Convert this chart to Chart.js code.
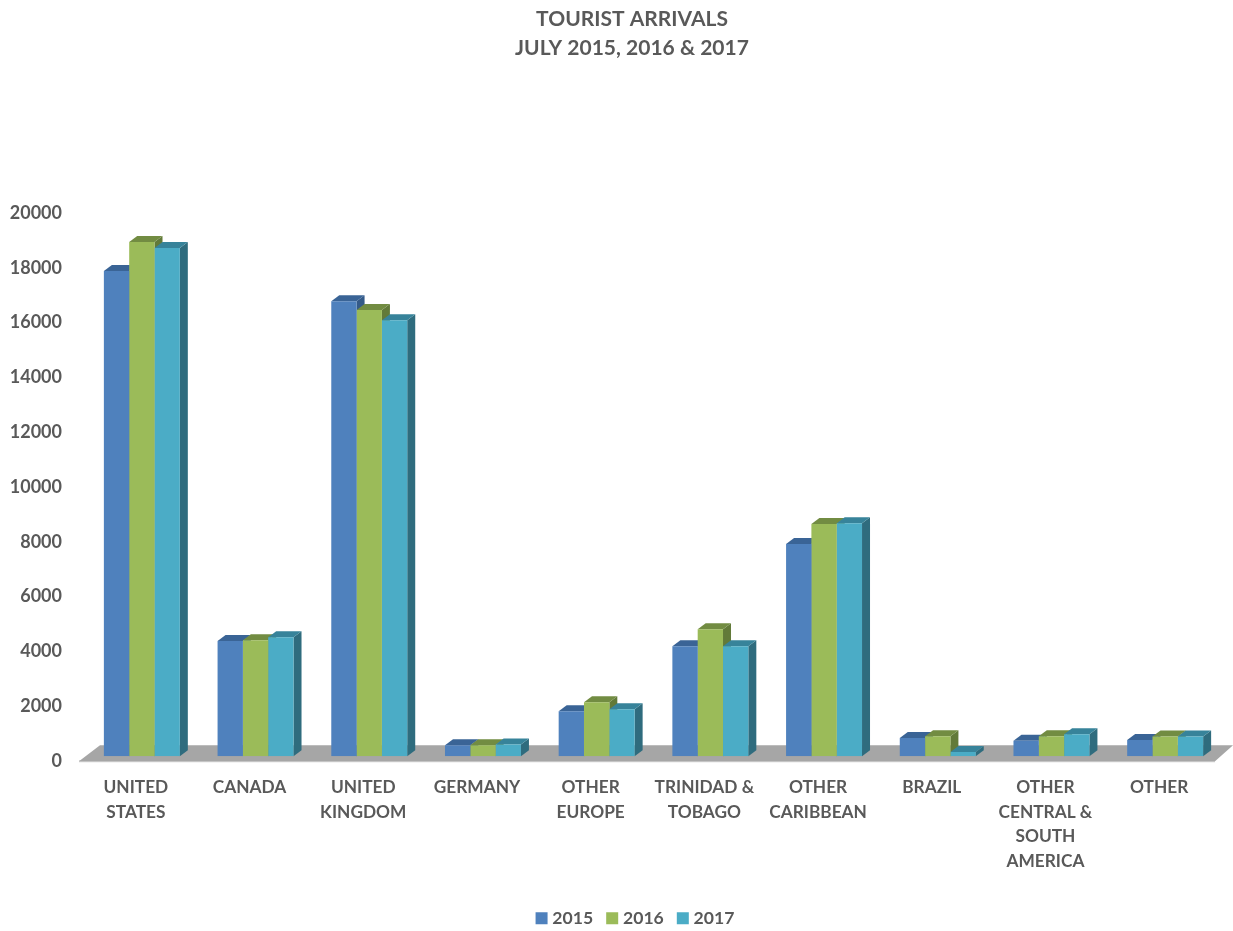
<!DOCTYPE html>
<html>
<head>
<meta charset="utf-8">
<title>Tourist arrivals</title>
<script src="https://cdn.jsdelivr.net/npm/chart.js@4/dist/chart.umd.min.js"></script>
<style>
    html, body { margin: 0; padding: 0; background: #ffffff; }
    canvas { display: block; }
</style>
</head>
<body>
<canvas id="graph_arrivals" width="1233" height="931"></canvas>
<script>
var categories = [
    ['UNITED', 'STATES'],
    'CANADA',
    ['UNITED', 'KINGDOM'],
    'GERMANY',
    ['OTHER', 'EUROPE'],
    ['TRINIDAD &', 'TOBAGO'],
    ['OTHER', 'CARIBBEAN'],
    'BRAZIL',
    ['OTHER', 'CENTRAL &', 'SOUTH', 'AMERICA'],
    'OTHER'
];
var arrivals2015 = [17700, 4200, 16600, 400, 1640, 4010, 7740, 660, 560, 590];
var arrivals2016 = [18760, 4230, 16280, 400, 1970, 4630, 8470, 730, 730, 720];
var arrivals2017 = [18540, 4340, 15900, 420, 1715, 4010, 8500, 150, 800, 720];
var titleLines = ['TOURIST ARRIVALS', 'JULY 2015, 2016 & 2017'];

var textColor = '#595959';
var fontName = 'Lato, Carlito, sans-serif';

// Colours of the top and side faces, same order as the datasets
var topColors = ['#3A6496', '#728C42', '#37839A'];
var sideColors = ['#345A88', '#627A39', '#2F6C7E'];

// Fake 3D: grey floor, then top and side of every bar, the fronts come from Chart.js
var depthX = 8;
var depthY = 6;

function polygon(ctx, color, pts) {
    ctx.fillStyle = color;
    ctx.beginPath();
    ctx.moveTo(pts[0][0], pts[0][1]);
    for (var i = 1; i < pts.length; i++) {
        ctx.lineTo(pts[i][0], pts[i][1]);
    }
    ctx.closePath();
    ctx.fill();
}

var bars3d = {
    id: 'bars3d',
    afterLayout: function (chart) {
        // title and legend are not centred on the canvas in the original
        chart.titleBlock.left += 21;
        chart.titleBlock.right += 21;
        chart.legend.left += 26;
        chart.legend.right += 26;
    },
    beforeDatasetsDraw: function (chart) {
        var ctx = chart.ctx;
        var area = chart.chartArea;

        ctx.save();
        polygon(ctx, '#CFCFCF', [
            [area.left - 6, area.bottom + 6],
            [area.right - 7, area.bottom + 6],
            [area.right - 7, area.bottom + 4],
            [area.left - 6, area.bottom + 4]
        ]);
        polygon(ctx, '#A6A6A6', [
            [area.left + 15, area.bottom - 11],
            [area.right + 11, area.bottom - 11],
            [area.right - 7, area.bottom + 5],
            [area.left - 6, area.bottom + 5]
        ]);

        categories.forEach(function (cat, j) {
            chart.data.datasets.forEach(function (ds, i) {
                var bar = chart.getDatasetMeta(i).data[j];
                var left = bar.x - bar.width / 2;
                var right = bar.x + bar.width / 2;
                polygon(ctx, sideColors[i], [
                    [right, bar.y],
                    [right + depthX, bar.y - depthY],
                    [right + depthX, bar.base - depthY],
                    [right, bar.base]
                ]);
                polygon(ctx, topColors[i], [
                    [left, bar.y],
                    [left + depthX, bar.y - depthY],
                    [right + depthX, bar.y - depthY],
                    [right, bar.y]
                ]);
            });
        });
        ctx.restore();
    }
};

var ctx = document.getElementById('graph_arrivals').getContext('2d');

var myChart = new Chart(ctx, {
    type: 'bar',
    data: {
        labels: categories,
        datasets: [
            { label: '2015', data: arrivals2015, backgroundColor: '#4F81BD' },
            { label: '2016', data: arrivals2016, backgroundColor: '#9BBB59' },
            { label: '2017', data: arrivals2017, backgroundColor: '#4BACC6' }
        ]
    },
    options: {
        responsive: false,
        animation: false,
        categoryPercentage: 0.668,
        barPercentage: 1,
        layout: {
            padding: { left: 0, right: 11, top: 0, bottom: -6 }
        },
        scales: {
            x: {
                afterFit: function (scale) {
                    scale.height += 8;
                },
                grid: { display: false },
                border: { display: false },
                ticks: {
                    autoSkip: false,
                    maxRotation: 0,
                    minRotation: 0,
                    padding: 11,
                    labelOffset: -6,
                    color: textColor,
                    font: { family: fontName, size: 17.3, weight: 'bold', lineHeight: 1.42 }
                }
            },
            y: {
                min: 0,
                max: 20000,
                afterFit: function (scale) {
                    scale.width = 85;
                },
                grid: { display: false, drawTicks: false },
                border: { display: false },
                ticks: {
                    stepSize: 2000,
                    padding: 23,
                    labelOffset: 5,
                    color: textColor,
                    font: { family: fontName, size: 18, weight: 'bold' },
                    callback: function (value) {
                        return String(value);
                    }
                }
            }
        },
        plugins: {
            title: {
                display: true,
                text: titleLines,
                color: textColor,
                padding: { top: 5, bottom: 145 },
                font: { family: fontName, size: 21, weight: 'bold', lineHeight: 1.38 }
            },
            legend: {
                position: 'bottom',
                labels: {
                    usePointStyle: true,
                    pointStyle: 'rect',
                    boxWidth: 4,
                    boxHeight: 12,
                    padding: 17,
                    color: textColor,
                    font: { family: fontName, size: 17.6, weight: 'bold' }
                }
            },
            tooltip: { enabled: false }
        }
    },
    plugins: [bars3d]
});
</script>
</body>
</html>
